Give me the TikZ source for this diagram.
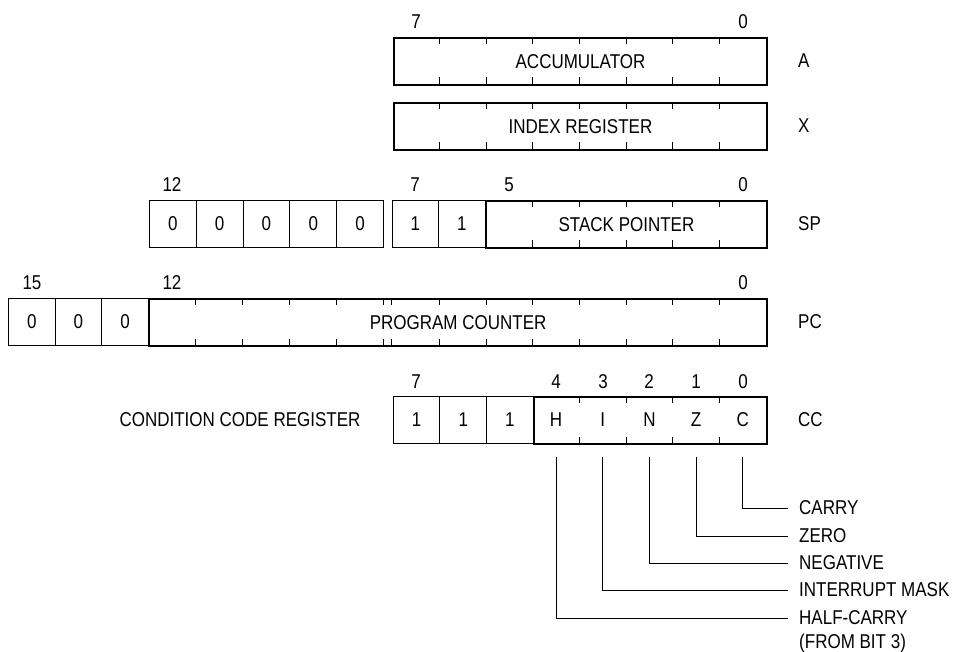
\documentclass[tikz,border=0pt]{standalone}
\usepackage{fontspec}
\setmainfont{Liberation Sans}[FakeStretch=0.85]
\begin{document}
\begin{tikzpicture}[x=1pt,y=-1pt,
  every node/.style={font=\fontsize{20}{24}\selectfont, inner sep=0pt},
  reg/.style={draw, line width=2.2pt, minimum height=47pt, anchor=north west},
  cell/.style={draw, line width=0.9pt, minimum width=46.65pt, minimum height=47pt, anchor=north west},
  wcell/.style={cell, minimum width=46.8pt},
  flag/.style={minimum width=46.65pt, minimum height=47pt},
  tick/.style={line width=1pt},
  lead/.style={line width=1pt},
  regname/.style={anchor=west},
  flagdesc/.style={anchor=west},
]
\useasboundingbox (0,0) rectangle (956,651);

% ---- accumulator ----
\node[reg, minimum width=373.2pt] (acc) at (392.8,37) {ACCUMULATOR};
\node (a7) at (416,22) {7};
\node (a0) at (743,22) {0};
\node[regname] (aname) at (798,60.5) {A};

% ---- index register ----
\node[reg, minimum width=373.2pt] (idx) at (392.8,102) {INDEX REGISTER};
\node[regname] (xname) at (798,125.5) {X};

\foreach \x in {439.45,486.1,532.75,579.4,626.05,672.7,719.35} {
  \draw[tick] (\x,37) -- (\x,44);   \draw[tick] (\x,84) -- (\x,77);
  \draw[tick] (\x,102) -- (\x,109); \draw[tick] (\x,149) -- (\x,142);
}

% ---- stack pointer ----
\node[wcell] (sp12) at (149,200) {0};
\node[wcell] (sp11) at (195.8,200) {0};
\node[wcell] (sp10) at (242.6,200) {0};
\node[wcell] (sp9) at (289.4,200) {0};
\node[wcell] (sp8) at (336.2,200) {0};
\node[cell] (sp7) at (391.5,200) {1};
\node[cell] (sp6) at (438.15,200) {1};
\node[reg, minimum width=281.2pt] (spreg) at (484.8,200) {STACK POINTER};
\foreach \x in {532.75,579.4,626.05,672.7,719.35} {
  \draw[tick] (\x,200) -- (\x,207); \draw[tick] (\x,247) -- (\x,240);
}
\node (sp12n) at (172,185) {12};
\node (sp7n) at (415,185) {7};
\node (sp5n) at (509,185) {5};
\node (sp0n) at (743,185) {0};
\node[regname] (spname) at (798,223.5) {SP};

% ---- program counter ----
\node[cell] (pc15) at (8,298) {0};
\node[cell] (pc14) at (54.65,298) {0};
\node[cell] (pc13) at (101.3,298) {0};
\node[reg, minimum width=618pt] (pcreg) at (148,298) {PROGRAM COUNTER};
\foreach \x in {195.8,242.6,289.4,336.2,383,391.5,439.45,486.1,532.75,579.4,626.05,672.7,719.35} {
  \draw[tick] (\x,298) -- (\x,305); \draw[tick] (\x,346) -- (\x,339);
}
\node (pc15n) at (32,283) {15};
\node (pc12n) at (172,283) {12};
\node (pc0n) at (743,283) {0};
\node[regname] (pcname) at (798,322) {PC};

% ---- condition code register ----
\node (ccrlabel) at (240,420) {CONDITION CODE REGISTER};
\node[cell] (cc7) at (392.8,396) {1};
\node[cell] (cc6) at (439.45,396) {1};
\node[cell] (cc5) at (486.1,396) {1};
\node[reg, minimum width=233.25pt] (ccreg) at (532.75,396) {};
\foreach \x in {579.4,626.05,672.7,719.35} {
  \draw[tick] (\x,396) -- (\x,403); \draw[tick] (\x,444) -- (\x,437);
}
\node[flag] (fH) at (556.1,420) {H};
\node[flag] (fI) at (602.7,420) {I};
\node[flag] (fN) at (649.4,420) {N};
\node[flag] (fZ) at (696,420) {Z};
\node[flag] (fC) at (742.7,420) {C};
\node (cc7n) at (416,382) {7};
\node (cc4n) at (556,382) {4};
\node (cc3n) at (603,382) {3};
\node (cc2n) at (649,382) {2};
\node (cc1n) at (696,382) {1};
\node (cc0n) at (743,382) {0};
\node[regname] (ccname) at (798,420) {CC};

% ---- flag descriptions ----
\node[flagdesc] (dC) at (799,508) {CARRY};
\node[flagdesc] (dZ) at (799,536) {ZERO};
\node[flagdesc] (dN) at (799,563) {NEGATIVE};
\node[flagdesc] (dI) at (799,590) {INTERRUPT MASK};
\node[flagdesc] (dH) at (799,618) {HALF-CARRY};
\node[flagdesc] (dH2) at (799,643) {(FROM BIT 3)};

\foreach \f in {C,Z,N,I,H} {
  \draw[lead] ([yshift=-13pt]f\f.south) |- ([xshift=-11pt]d\f.west);
}
\end{tikzpicture}
\end{document}
